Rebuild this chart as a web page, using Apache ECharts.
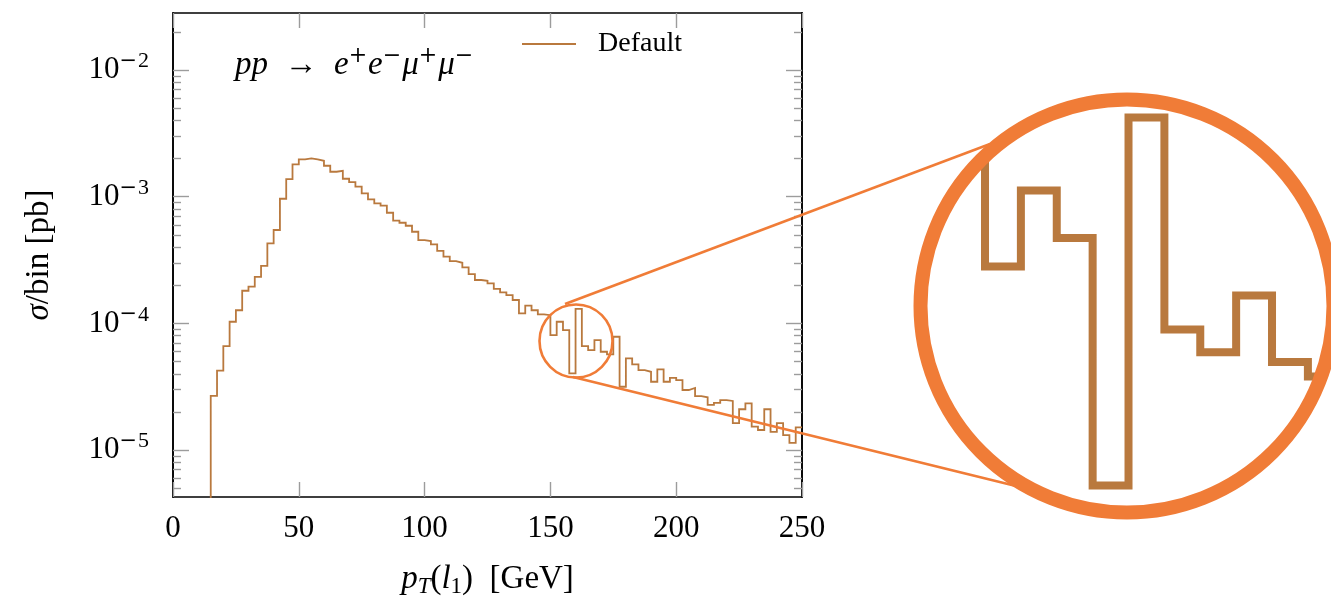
<!DOCTYPE html>
<html>
<head>
<meta charset="utf-8">
<script src="https://cdn.jsdelivr.net/npm/echarts@6/dist/echarts.min.js"></script>
<style>
html, body { margin: 0; padding: 0; background: #fff; }
#chart { width: 1331px; height: 597px; }
</style>
</head>
<body>
<div id="chart"></div>
<script>
// histogram: 2.5 GeV bins starting at 15 GeV
var binStart = 15;
var binWidth = 2.5;
var sigma = [
  2.68e-5, 4.23e-5, 6.62e-5, 1.03e-4, 1.27e-4, 1.81e-4, 1.95e-4, 2.33e-4, 2.84e-4, 4.28e-4,
  5.46e-4, 9.64e-4, 1.378e-3, 1.80e-3, 1.97e-3, 2.01e-3, 1.97e-3, 1.92e-3, 1.756e-3, 1.574e-3,
  1.603e-3, 1.386e-3, 1.305e-3, 1.199e-3, 1.063e-3, 9.53e-4, 8.87e-4, 8.49e-4, 7.47e-4, 6.48e-4,
  6.23e-4, 5.90e-4, 5.29e-4, 4.55e-4, 4.47e-4, 4.21e-4, 3.74e-4, 3.36e-4, 3.10e-4, 3.01e-4,
  2.77e-4, 2.45e-4, 2.20e-4, 2.17e-4, 2.07e-4, 1.87e-4, 1.76e-4, 1.67e-4, 1.53e-4, 1.20e-4,
  1.38e-4, 1.27e-4, 1.18e-4, 1.16e-4, 8.09e-5, 1.03e-4, 8.86e-5, 4.03e-5, 1.30e-4, 6.62e-5,
  6.16e-5, 7.38e-5, 5.97e-5, 5.70e-5, 7.84e-5, 3.16e-5, 5.30e-5, 4.75e-5, 4.28e-5, 4.15e-5,
  3.46e-5, 4.34e-5, 3.46e-5, 3.72e-5, 3.57e-5, 2.98e-5, 3.09e-5, 2.67e-5, 2.61e-5, 2.27e-5,
  2.36e-5, 2.48e-5, 2.44e-5, 1.63e-5, 2.10e-5, 2.34e-5, 1.53e-5, 1.44e-5, 2.10e-5, 1.39e-5,
  1.63e-5, 1.31e-5, 1.14e-5, 1.51e-5
];
var yMajor = [1e-5, 1e-4, 1e-3, 1e-2];
var yMinor = [
  5e-6, 6e-6, 7e-6, 8e-6, 9e-6,
  2e-5, 3e-5, 4e-5, 5e-5, 6e-5, 7e-5, 8e-5, 9e-5,
  2e-4, 3e-4, 4e-4, 5e-4, 6e-4, 7e-4, 8e-4, 9e-4,
  2e-3, 3e-3, 4e-3, 5e-3, 6e-3, 7e-3, 8e-3, 9e-3,
  2e-2
];

var yMin = 4.26e-6, yMax = 2.82e-2;
// magnified window (inset)
var zoomX = [145.47, 174.11];
var zoomY = [3.705e-5, 1.374e-4];

var serif = "'Liberation Serif', 'DejaVu Serif', serif";
var signFont = "'DejaVu Serif', serif";
var lineColor = '#b9793e';
var zoomColor = '#f07c37';
var tickGray = '#9c9c9c';

// step points: vertical rise at 15 GeV from below the axis, last bin closed at 250
var steps = [[binStart, 1e-9]];
sigma.forEach(function (v, i) {
  steps.push([binStart + i * binWidth, v]);
});
steps.push([binStart + sigma.length * binWidth, sigma[sigma.length - 1]]);

function powLabel(v) {
  var e = Math.round(Math.log(v) / Math.LN10);
  return e < 0 ? '{b|10}{m|\u2212}{s|' + (-e) + '}' : '{b|10}{s|' + e + '}';
}

function tok(size, lh, extra) {
  var t = { fontFamily: serif, fontSize: size, lineHeight: lh, color: '#000', fontWeight: 'normal' };
  for (var k in extra) t[k] = extra[k];
  return t;
}

// tick labels
var tickRich = {
  b: tok(31, 38, {}),
  m: tok(21, 21, { fontFamily: signFont, padding: [0, 1, 17, 0] }),
  s: tok(22, 21, { padding: [0, 0, 17, 0] })
};
// names and annotation
var nameRich = {
  i: tok(33, 40, { fontStyle: 'italic' }),
  r: tok(33, 40, {}),
  si: tok(23, 23, { padding: [16, 0, 0, 0], fontStyle: 'italic' }),
  sr: tok(23, 23, { padding: [16, 0, 0, 0] })
};
var annoRich = {
  i: tok(33, 40, { fontStyle: 'italic' }),
  r: tok(33, 40, {}),
  p: tok(22, 22, { fontFamily: signFont, padding: [0, 1, 18, 0] })
};

function logAxis(pos, ticks, len, withLabels) {
  return {
    type: 'log', logBase: 10, gridIndex: 0, position: pos, min: yMin, max: yMax,
    axisLine: { show: true, lineStyle: { color: '#000', width: 1.6 } },
    axisTick: { show: true, inside: true, length: len, customValues: ticks,
      lineStyle: { color: tickGray, width: 1.4 } },
    axisLabel: withLabels ? { show: true, customValues: ticks, formatter: powLabel, rich: tickRich, margin: 24 }
                          : { show: false },
    splitLine: { show: false },
    minorTick: { show: false }
  };
}

var chart = echarts.init(document.getElementById('chart'));

var yAxes = [
  logAxis('left', yMajor, 16, true),
  logAxis('left', yMinor, 8, false),
  logAxis('right', yMajor, 16, false),
  logAxis('right', yMinor, 8, false),
  { type: 'log', gridIndex: 1, min: zoomY[0], max: zoomY[1], show: false }
];
yAxes[0].name = '{i|\u03c3}{r|/bin [pb]}';
yAxes[0].nameLocation = 'middle';
yAxes[0].nameGap = 114;
yAxes[0].nameTextStyle = { rich: nameRich };

var option = {
  animation: false,
  backgroundColor: '#fff',
  title: {
    text: '{i|pp}{r|  \u2192  }{i|e}{p|+}{i|e}{p|\u2212}{i|\u03bc}{p|+}{i|\u03bc}{p|\u2212}',
    left: 230, top: 40,
    textStyle: { fontWeight: 'normal', rich: annoRich }
  },
  legend: {
    data: [{ name: 'Default', icon: 'rect' }],
    left: 517, top: 25,
    itemWidth: 54, itemHeight: 2,
    selectedMode: false,
    textStyle: { fontFamily: serif, fontSize: 28, color: '#000', padding: [0, 0, 0, 17] }
  },
  grid: [
    { left: 173, top: 13, width: 629, height: 484, outerBoundsMode: 'none', containLabel: false },
    { left: 920, top: 100, width: 411, height: 412, outerBoundsMode: 'none', containLabel: false }
  ],
  xAxis: [
    {
      type: 'value', gridIndex: 0, position: 'bottom', min: 0, max: 250, interval: 50,
      axisLine: { show: true, onZero: false, lineStyle: { color: '#000', width: 1.6 } },
      axisTick: { show: true, inside: true, length: 15, lineStyle: { color: tickGray, width: 1.4 } },
      axisLabel: { show: true, margin: 16, fontFamily: serif, fontSize: 31, color: '#000' },
      splitLine: { show: false },
      name: '{i|p}{si|T}{r|(}{i|l}{sr|1}{r|)  [GeV]}',
      nameLocation: 'middle', nameGap: 62,
      nameTextStyle: { rich: nameRich }
    },
    {
      type: 'value', gridIndex: 0, position: 'top', min: 0, max: 250, interval: 50,
      axisLine: { show: true, onZero: false, lineStyle: { color: '#000', width: 1.6 } },
      axisTick: { show: true, inside: true, length: 15, lineStyle: { color: tickGray, width: 1.4 } },
      axisLabel: { show: false },
      splitLine: { show: false }
    },
    { type: 'value', gridIndex: 1, min: zoomX[0], max: zoomX[1], show: false }
  ],
  yAxis: yAxes,
  series: [
    {
      name: 'Default', type: 'line', step: 'end', data: steps,
      xAxisIndex: 0, yAxisIndex: 0,
      symbol: 'none', clip: true, z: 3,
      lineStyle: { color: lineColor, width: 1.8, join: 'miter' },
      itemStyle: { color: lineColor }
    },
    {
      name: 'zoom', type: 'line', step: 'end', data: steps,
      xAxisIndex: 2, yAxisIndex: 4,
      symbol: 'none', clip: true, silent: true,
      lineStyle: { color: lineColor, width: 8, join: 'miter' },
      itemStyle: { color: lineColor }
    }
  ],
  graphic: [
    { type: 'ring', silent: true, z: 50, shape: { cx: 1127, cy: 306, r: 300, r0: 212 }, style: { fill: '#fff' } },
    { type: 'line', silent: true, z: 51, shape: { x1: 565, y1: 304, x2: 990, y2: 144 },
      style: { stroke: zoomColor, lineWidth: 2.6 } },
    { type: 'line', silent: true, z: 51, shape: { x1: 573, y1: 377, x2: 1020, y2: 487 },
      style: { stroke: zoomColor, lineWidth: 2.6 } },
    { type: 'circle', silent: true, z: 51, shape: { cx: 576, cy: 341, r: 36.5 },
      style: { fill: 'none', stroke: zoomColor, lineWidth: 2.6 } },
    { type: 'circle', silent: true, z: 52, shape: { cx: 1127, cy: 306, r: 206.5 },
      style: { fill: 'none', stroke: zoomColor, lineWidth: 14 } }
  ]
};

chart.setOption(option);
</script>
</body>
</html>
